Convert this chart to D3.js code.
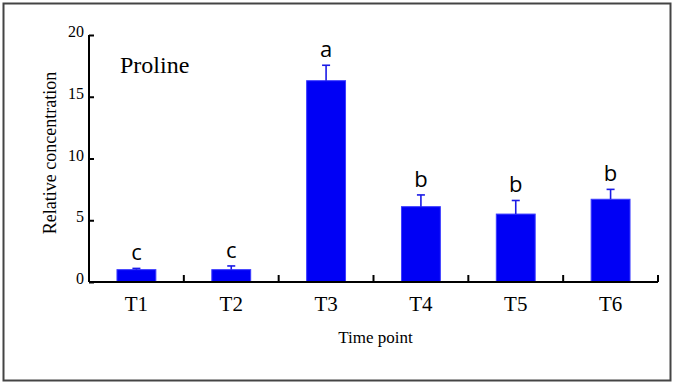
<!DOCTYPE html>
<html>
<head>
<meta charset="utf-8">
<script src="https://cdn.jsdelivr.net/npm/d3@7"></script>
<style>
  body { margin: 0; background: #fff; }
  svg { display: block; }
</style>
</head>
<body>
<div id="chart"></div>
<script>
// values
var timePoints = ["T1", "T2", "T3", "T4", "T5", "T6"];
var means = [1.0, 1.0, 16.3, 6.1, 5.5, 6.7];
var errors = [0.1, 0.3, 1.25, 0.95, 1.1, 0.8];
var letters = ["c", "c", "a", "b", "b", "b"];
var yTicks = [0, 5, 10, 15, 20];

var W = 675, H = 384;
var margin = { top: 35, right: 17, bottom: 102, left: 89 },
    width = W - margin.left - margin.right,
    height = H - margin.top - margin.bottom;

var svg = d3.select("#chart").append("svg")
    .attr("width", W)
    .attr("height", H);

// outer frame
svg.append("rect")
    .attr("x", 3.5)
    .attr("y", 3.5)
    .attr("width", 667)
    .attr("height", 377)
    .attr("fill", "none")
    .attr("stroke", "#444")
    .attr("stroke-width", 2);

var g = svg.append("g")
    .attr("transform", "translate(" + margin.left + "," + margin.top + ")");

var x = d3.scaleBand()
    .domain(timePoints)
    .range([0, width])
    .padding(0);

var y = d3.scaleLinear()
    .domain([0, 20])
    .range([height, 0]);

var barW = x.bandwidth() * 0.41;

// bars
g.selectAll("rect.bar")
    .data(means)
    .enter()
    .append("rect")
    .attr("class", "bar")
    .attr("x", function(d, i) { return x(timePoints[i]) + (x.bandwidth() - barW) / 2; })
    .attr("y", function(d) { return y(d); })
    .attr("width", barW)
    .attr("height", function(d) { return height - y(d); })
    .attr("fill", "#0000f5")
    .attr("stroke", "#3c3cff")
    .attr("stroke-width", 1);

// error bars (upper only)
var eb = g.selectAll("g.err")
    .data(means)
    .enter()
    .append("g")
    .attr("class", "err")
    .attr("transform", function(d, i) { return "translate(" + (x(timePoints[i]) + x.bandwidth() / 2) + ",0)"; });

eb.append("line")
    .attr("x1", 0).attr("x2", 0)
    .attr("y1", function(d) { return y(d); })
    .attr("y2", function(d, i) { return y(d + errors[i]); })
    .attr("stroke", "#1a1ae6")
    .attr("stroke-width", 1.6);

eb.append("line")
    .attr("x1", -4).attr("x2", 4)
    .attr("y1", function(d, i) { return y(d + errors[i]); })
    .attr("y2", function(d, i) { return y(d + errors[i]); })
    .attr("stroke", "#1a1ae6")
    .attr("stroke-width", 1.6);

// significance letters
eb.append("text")
    .attr("x", 0)
    .attr("y", function(d, i) { return y(d + errors[i]) - 8; })
    .attr("text-anchor", "middle")
    .style("font-family", "'Open Sans', sans-serif")
    .style("font-size", "22px")
    .style("fill", "#000")
    .text(function(d, i) { return letters[i]; });

// x axis: ticks between categories, pointing up
var xAxisG = g.append("g")
    .attr("transform", "translate(0," + height + ")");

xAxisG.append("line")
    .attr("x1", 0).attr("x2", width)
    .attr("stroke", "#000")
    .attr("stroke-width", 2);

xAxisG.selectAll("line.sep")
    .data(timePoints.slice(1).concat(["end"]))
    .enter()
    .append("line")
    .attr("class", "sep")
    .attr("x1", function(d, i) { return x.step() * (i + 1); })
    .attr("x2", function(d, i) { return x.step() * (i + 1); })
    .attr("y1", 0)
    .attr("y2", -7)
    .attr("stroke", "#000")
    .attr("stroke-width", 2);

xAxisG.selectAll("text")
    .data(timePoints)
    .enter()
    .append("text")
    .attr("x", function(d) { return x(d) + x.bandwidth() / 2; })
    .attr("y", 29)
    .attr("text-anchor", "middle")
    .style("font-family", "'Liberation Serif', 'Times New Roman', serif")
    .style("font-size", "21px")
    .text(function(d) { return d; });

// y axis with inward ticks
var yAxis = d3.axisRight(y)
    .tickValues(yTicks)
    .tickSize(5)
    .tickFormat(d3.format("d"));

var yAxisG = g.append("g").call(yAxis);
yAxisG.select(".domain")
    .attr("d", "M0," + height + "V0")
    .attr("stroke", "#000")
    .attr("stroke-width", 2);
yAxisG.selectAll(".tick line")
    .attr("stroke", "#000")
    .attr("stroke-width", 2);
yAxisG.selectAll(".tick text")
    .attr("x", -5)
    .attr("dy", "0.1em")
    .attr("text-anchor", "end")
    .style("font-family", "'Liberation Serif', 'Times New Roman', serif")
    .style("font-size", "16px")
    .style("fill", "#000");

// panel title
g.append("text")
    .attr("x", 31)
    .attr("y", 38)
    .style("font-family", "'Liberation Serif', 'Times New Roman', serif")
    .style("font-size", "24px")
    .text("Proline");

// axis titles
g.append("text")
    .attr("x", width / 2 + 2)
    .attr("y", 308)
    .attr("text-anchor", "middle")
    .style("font-family", "'Liberation Serif', 'Times New Roman', serif")
    .style("font-size", "17px")
    .text("Time point");

g.append("text")
    .attr("transform", "rotate(-90)")
    .attr("x", -(153 - margin.top))
    .attr("y", 56 - margin.left)
    .attr("text-anchor", "middle")
    .style("font-family", "'Liberation Serif', 'Times New Roman', serif")
    .style("font-size", "18px")
    .text("Relative concentration");
</script>
</body>
</html>
